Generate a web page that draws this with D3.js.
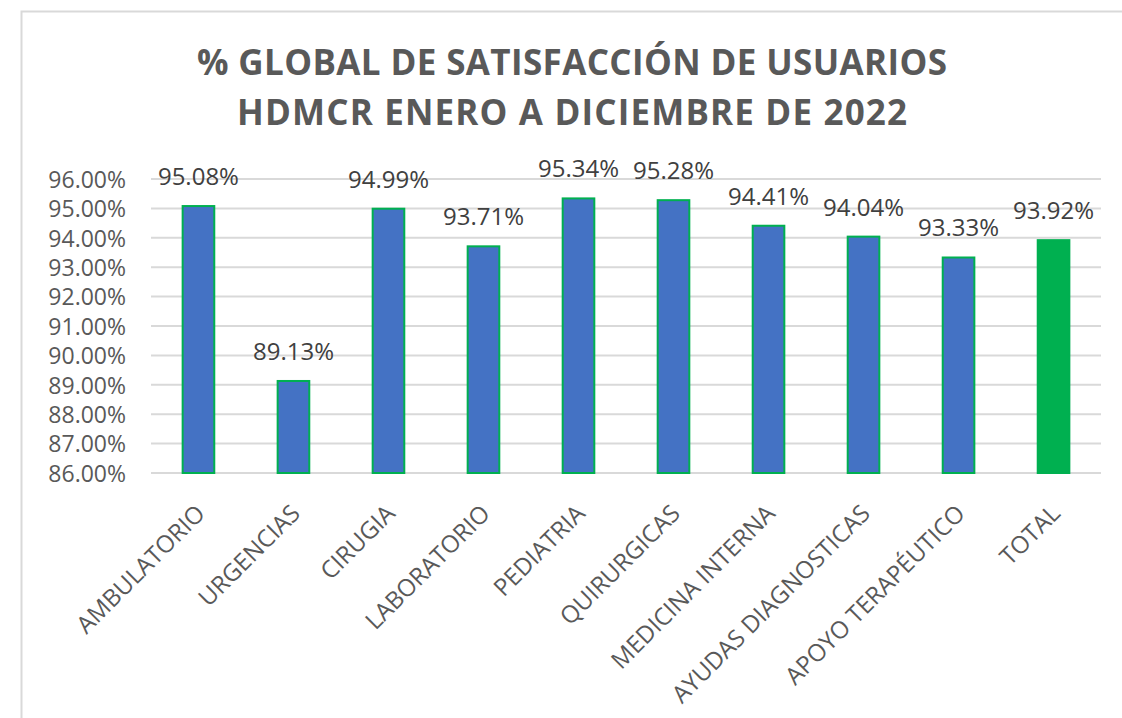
<!DOCTYPE html>
<html>
<head>
<meta charset="utf-8">
<script src="https://cdn.jsdelivr.net/npm/d3@7"></script>
<style>
  html, body { margin: 0; padding: 0; background: #fff; }
  svg { display: block; }
</style>
</head>
<body>
<div id="vis"></div>
<script>
// ── DATA ──────────────────────────────────────────────────────────────────────
const categories = ["AMBULATORIO", "URGENCIAS", "CIRUGIA", "LABORATORIO", "PEDIATRIA",
                    "QUIRURGICAS", "MEDICINA INTERNA", "AYUDAS DIAGNOSTICAS",
                    "APOYO TERAPÉUTICO", "TOTAL"];
const values     = [95.08, 89.13, 94.99, 93.71, 95.34, 95.28, 94.41, 94.04, 93.33, 93.92];
const yTicks     = [86, 87, 88, 89, 90, 91, 92, 93, 94, 95, 96];
const titleLines = ["% GLOBAL DE SATISFACCIÓN DE USUARIOS", "HDMCR ENERO A DICIEMBRE DE 2022"];

// ── CONFIG ────────────────────────────────────────────────────────────────────
const width  = 1122;
const height = 718;
const plotLeft = 151, plotRight = 1101;
const plotTop = 179, plotBottom = 473;
const titleWidths = [750, 670];   // measured line widths of the title
const blue  = "#4472C4";
const green = "#00B050";
const textColor = "#595959";
const font = "'Open Sans', 'Noto Sans', sans-serif";

const data = categories.map((c, i) => ({ name: c, value: values[i] }));

const svg = d3.select("#vis").append("svg")
    .attr("width", width)
    .attr("height", height);

// chart frame
svg.append("rect")
    .attr("x", 21.5).attr("y", 11.5)
    .attr("width", width + 10).attr("height", height + 10)
    .attr("fill", "#fff")
    .attr("stroke", "#d9d9d9")
    .attr("stroke-width", 2);

// title
svg.append("g")
    .attr("font-family", font)
    .attr("font-weight", "bold")
    .attr("font-size", 35)
    .attr("fill", textColor)
    .attr("text-anchor", "middle")
  .selectAll("text")
  .data(titleLines)
  .join("text")
    .attr("x", 572)
    .attr("y", (d, i) => 75 + i * 50)
    .attr("textLength", (d, i) => titleWidths[i])
    .attr("lengthAdjust", "spacing")
    .text(d => d);

// scales
const x = d3.scaleBand()
    .domain(categories)
    .range([plotLeft, plotRight])
    .paddingInner(0.667)
    .paddingOuter(0.333);

const y = d3.scaleLinear()
    .domain([d3.min(yTicks), d3.max(yTicks)])
    .range([plotBottom, plotTop]);

// gridlines
svg.append("g")
  .selectAll("line")
  .data(yTicks)
  .join("line")
    .attr("x1", plotLeft).attr("x2", plotRight)
    .attr("y1", d => y(d)).attr("y2", d => y(d))
    .attr("stroke", "#d9d9d9")
    .attr("stroke-width", 2);

// y axis
const yAxis = d3.axisLeft(y)
    .tickValues(yTicks)
    .tickFormat(d => d.toFixed(2) + "%")
    .tickSize(0)
    .tickPadding(0);

svg.append("g")
    .attr("transform", `translate(126,0)`)
    .call(yAxis)
    .call(g => g.select(".domain").remove())
    .call(g => g.selectAll("text")
        .attr("font-family", font)
        .attr("font-size", 23)
        .attr("fill", textColor)
        .attr("dy", "0.36em"));

// bars
svg.append("g")
  .selectAll("rect")
  .data(data)
  .join("rect")
    .attr("x", d => x(d.name))
    .attr("y", d => y(d.value))
    .attr("width", x.bandwidth())
    .attr("height", d => y(86) - y(d.value))
    .attr("fill", d => d.name === "TOTAL" ? green : blue)
    .attr("stroke", green)
    .attr("stroke-width", 2);

// value labels
svg.append("g")
    .attr("font-family", font)
    .attr("font-size", 24)
    .attr("fill", "#404040")
    .attr("text-anchor", "middle")
  .selectAll("text")
  .data(data)
  .join("text")
    .attr("x", d => x(d.name) + x.bandwidth() / 2)
    .attr("y", d => y(d.value) - 21)
    .text(d => d.value.toFixed(2) + "%");

// x axis labels
const xAxis = d3.axisBottom(x).tickSize(0).tickPadding(0);
svg.append("g")
    .attr("transform", `translate(0,${plotBottom})`)
    .call(xAxis)
    .call(g => g.select(".domain").remove())
    .call(g => g.selectAll("text")
        .attr("font-family", font)
        .attr("font-size", 24)
        .attr("fill", textColor)
        .attr("text-anchor", "end")
        .attr("dy", 0)
        .attr("y", 0)
        .attr("transform", "translate(8,42) rotate(-45)"));
</script>
</body>
</html>
